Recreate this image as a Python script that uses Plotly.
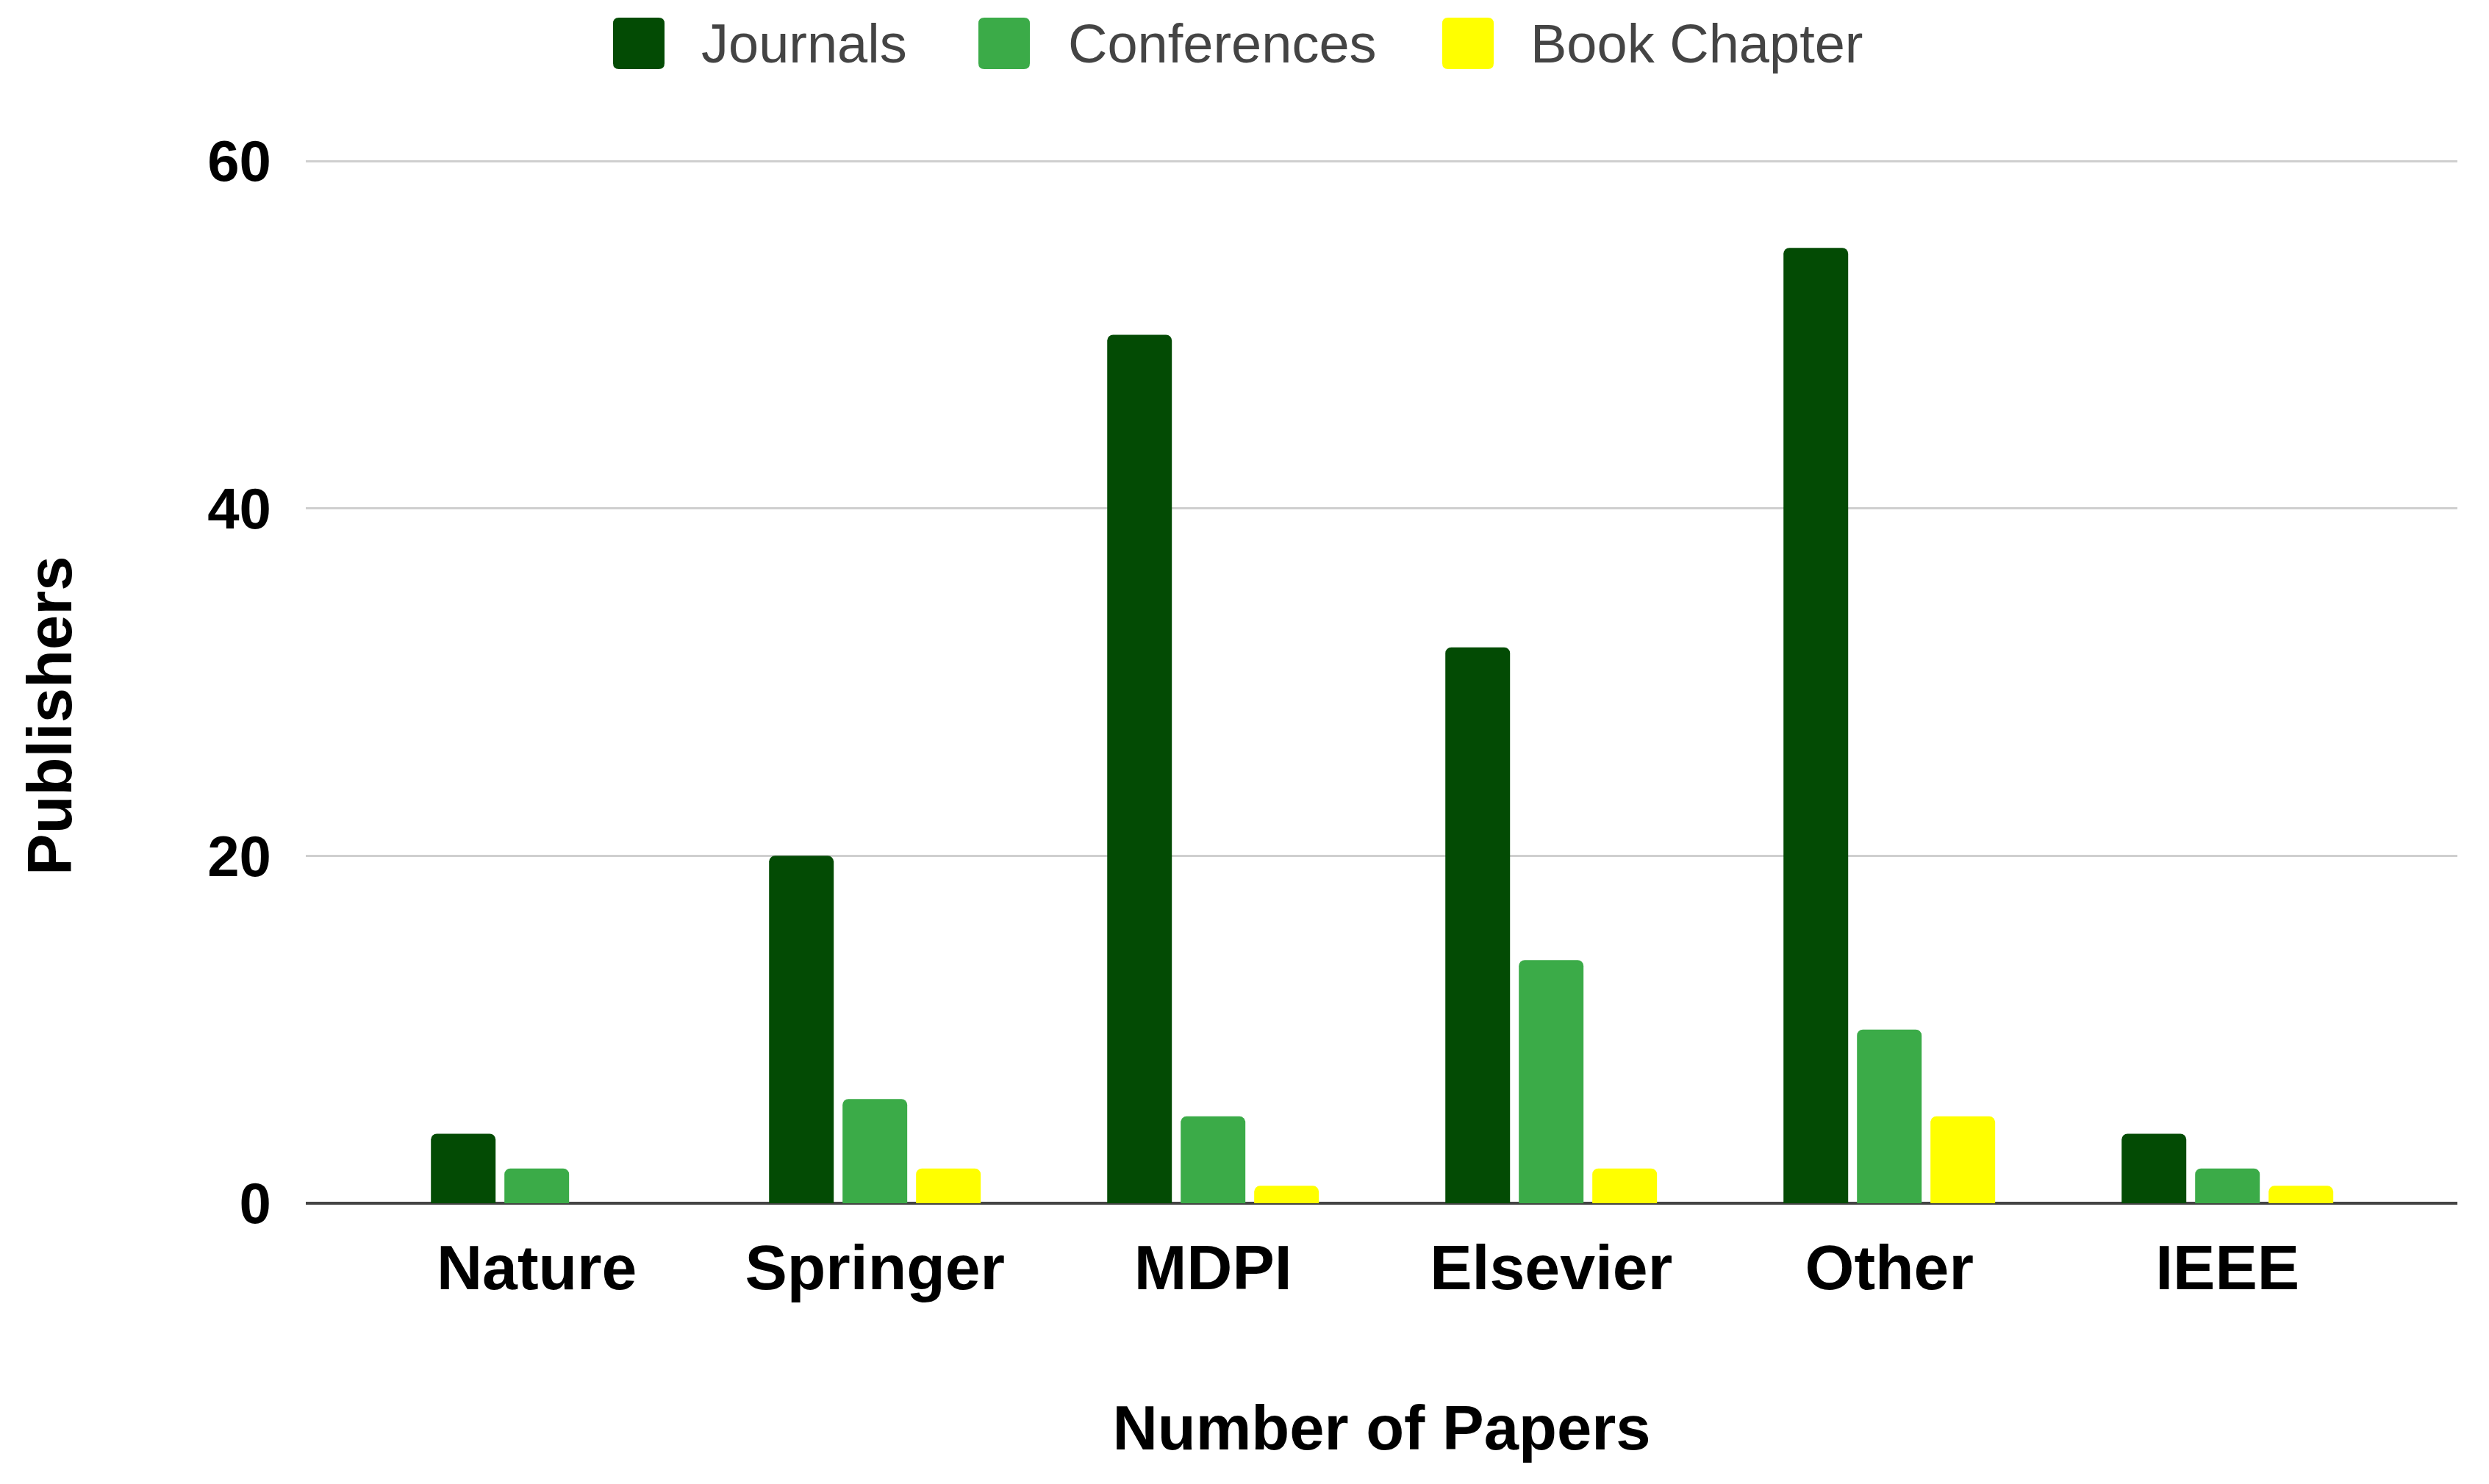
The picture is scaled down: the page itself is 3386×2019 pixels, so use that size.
import plotly.graph_objects as go

categories = ["Nature", "Springer", "MDPI", "Elsevier", "Other", "IEEE"]
journals = [4, 20, 50, 32, 55, 4]
conferences = [2, 6, 5, 14, 10, 2]
book_chapter = [0, 2, 1, 2, 5, 1]
series_names = ["Journals", "Conferences", "Book Chapter"]
colors = ["#034b04", "#3bab48", "#ffff00"]
y_ticks = [0, 20, 40, 60]

OFF = 8  # page body margin
W, H = 3386 - 2 * OFF, 2019 - 2 * OFF
# target plot area in page pixels
P_LEFT, P_RIGHT, P_Y60, P_Y0 = 416, 3343, 219, 1637
Y_TOP = 60.3
px_per_unit = (P_Y0 - P_Y60) / 60.0
L = P_LEFT - OFF
R = W - (P_RIGHT - OFF)
B = H - (P_Y0 - OFF)
T = (P_Y60 - OFF) - (Y_TOP - 60) * px_per_unit
PW, PH = W - L - R, H - T - B

FONT = "Liberation Sans, Arial, sans-serif"

fig = go.Figure()
for name, vals, col in zip(series_names, [journals, conferences, book_chapter], colors):
    fig.add_trace(go.Bar(
        x=categories, y=vals, name=name,
        marker=dict(color=col, line=dict(width=0), cornerradius=8),
        showlegend=False,
    ))

fig.update_layout(
    width=W, height=H,
    margin=dict(l=L, r=R, t=T, b=B, pad=0),
    paper_bgcolor="white", plot_bgcolor="white",
    barmode="group", bargap=0.348, bargroupgap=0.12,
    font=dict(family=FONT, color="#000"),
)
fig.update_xaxes(
    type="category", range=[-0.683, 5.68],
    showgrid=False, showline=False, zeroline=False, ticks="",
    tickfont=dict(family=FONT, size=86, color="#000", weight="bold"),
    ticklabelstandoff=30,
    title=dict(text="<b>Number of Papers</b>", font=dict(family=FONT, size=85, color="#000"), standoff=141),
)
fig.update_yaxes(
    range=[0, Y_TOP], tickvals=y_ticks, ticktext=[str(v) for v in y_ticks],
    showgrid=True, gridcolor="#cfcfcf", gridwidth=3,
    zeroline=True, zerolinecolor="#444444", zerolinewidth=4,
    showline=False, ticks="",
    tickfont=dict(family=FONT, size=78, color="#000", weight="bold"),
    ticklabelstandoff=46,
)

def px_to_paper_x(px):
    return (px - OFF - L) / PW

def px_to_paper_y(py):
    return (H - B - (py - OFF)) / PH

# y-axis title (rotated)
fig.add_annotation(
    text="<b>Publishers</b>", xref="paper", yref="paper",
    x=px_to_paper_x(67), y=px_to_paper_y(974), showarrow=False,
    textangle=-90, font=dict(family=FONT, size=85, color="#000"),
    xanchor="center", yanchor="middle",
)

# custom legend (rounded swatches + labels) at top, page-pixel positions
sw_center_x = [869, 1366, 1997]
txt_left = [952, 1451, 2080]
cy = 59
half = 35
rad = 8
swatch_path = (
    f"M{-half + rad},{-half} L{half - rad},{-half} Q{half},{-half} {half},{-half + rad} "
    f"L{half},{half - rad} Q{half},{half} {half - rad},{half} "
    f"L{-half + rad},{half} Q{-half},{half} {-half},{half - rad} "
    f"L{-half},{-half + rad} Q{-half},{-half} {-half + rad},{-half} Z"
)
for name, col, sx, tx in zip(series_names, colors, sw_center_x, txt_left):
    fig.add_shape(
        type="path", xref="paper", yref="paper",
        xsizemode="pixel", ysizemode="pixel",
        xanchor=px_to_paper_x(sx), yanchor=px_to_paper_y(cy),
        path=swatch_path, fillcolor=col, line=dict(width=0), layer="above",
    )
    fig.add_annotation(
        text=name, xref="paper", yref="paper",
        x=px_to_paper_x(tx), y=px_to_paper_y(cy), showarrow=False,
        xanchor="left", yanchor="middle",
        font=dict(family=FONT, size=74, color="#444444"),
    )

fig.write_html("out.html")
